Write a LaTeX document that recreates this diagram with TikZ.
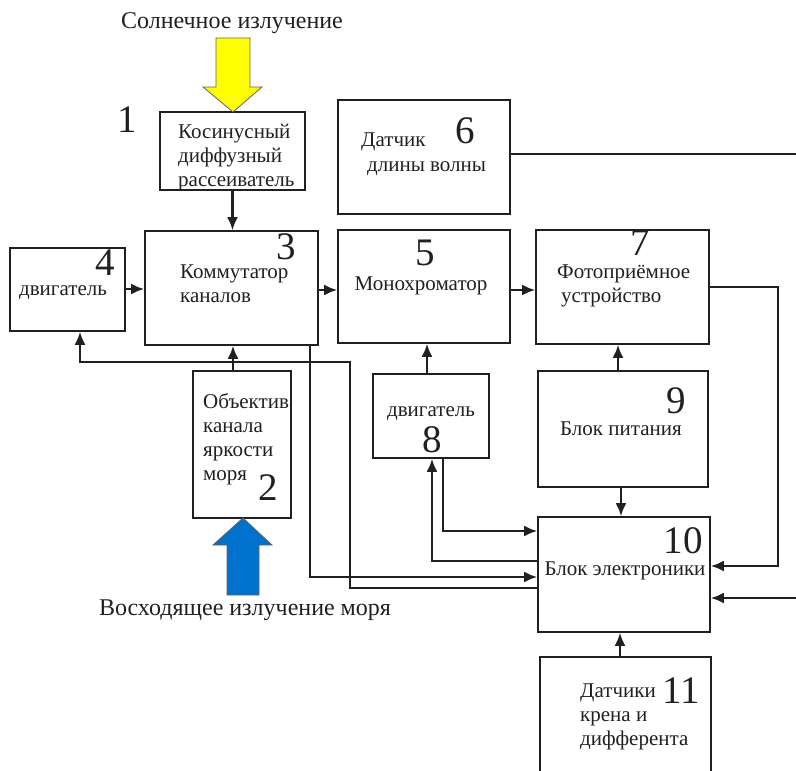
\documentclass[tikz,border=0pt]{standalone}
\usepackage{fontspec}
\setmainfont{Liberation Serif}
\usetikzlibrary{arrows.meta,calc}
\definecolor{sunyellow}{RGB}{255,255,0}
\definecolor{seablue}{RGB}{0,114,206}
\definecolor{ink}{RGB}{35,31,32}
\begin{document}
\begin{tikzpicture}[x=1pt,y=-1pt,
  box/.style={draw=ink,line width=1.8pt,inner sep=0pt},
  wire/.style={draw=ink,line width=2.2pt},
  arr/.style={wire,-{Latex[length=13pt,width=11pt]}},
  txt/.style={font=\fontsize{21}{24}\selectfont,inner sep=0pt,text=ink},
  mtxt/.style={txt,align=left},
  num/.style={font=\fontsize{39}{39}\selectfont,inner sep=0pt,text=ink},
  big/.style={font=\fontsize{24}{26}\selectfont,inner sep=0pt,text=ink}]
\useasboundingbox (0,0) rectangle (796,771);
\clip (0,0) rectangle (796,771);
\fill[white] (0,0) rectangle (796,771);
% boxes
\node[box,minimum width=145pt,minimum height=78pt] (b1) at (232.5,151) {};
\node[box,minimum width=172pt,minimum height=114pt] (b6) at (424,157) {};
\node[box,minimum width=115pt,minimum height=83pt] (b4) at (67.5,289.5) {};
\node[box,minimum width=173pt,minimum height=114pt] (b3) at (231.5,288) {};
\node[box,minimum width=172pt,minimum height=113pt] (b5) at (424,286.5) {};
\node[box,minimum width=173pt,minimum height=114pt] (b7) at (622.5,287) {};
\node[box,minimum width=170pt,minimum height=116pt] (b9) at (623,429) {};
\node[box,minimum width=172pt,minimum height=115pt] (b10) at (624,574.5) {};
\node[box,minimum width=171pt,minimum height=150pt] (b11) at (625.5,732) {};
\node[box,minimum width=116pt,minimum height=84pt] (b8) at (431,416) {};
\node[box,minimum width=98pt,minimum height=147pt] (b2) at (242,444.5) {};
% big arrows
\filldraw[fill=sunyellow,draw=ink!70,line width=0.8pt]
  (216,38) -- (250,38) -- (250,87) -- (262,87) -- (233,112) -- (203,87) -- (216,87) -- cycle;
\filldraw[fill=seablue,draw=ink!70,line width=0.8pt]
  (227,595) -- (259,595) -- (259,545) -- (272,545) -- (243,518) -- (213,545) -- (227,545) -- cycle;
% titles
\node[big,anchor=base] (tsun) at (232,28) {Солнечное излучение};
\node[big,anchor=base] (tsea) at (245,615) {Восходящее излучение моря};
% numbers
\node[num,anchor=base] (n1) at (127,132) {1};
\node[num,anchor=base] (n2) at (268,500) {2};
\node[num,anchor=base] (n3) at (286,259) {3};
\node[num,anchor=base] (n4) at (105,275) {4};
\node[num,anchor=base] (n5) at (425,265) {5};
\node[num,anchor=base] (n6) at (465,143) {6};
\node[num,anchor=base] (n7) at (640,255) {7};
\node[num,anchor=base] (n8) at (432,452) {8};
\node[num,anchor=base] (n9) at (676,413) {9};
\node[num,anchor=base] (n10) at (683,553) {10};
\node[num,anchor=base] (n11) at (681,703) {11};
% texts (multi-line nodes: base = last line's baseline)
\node[mtxt,anchor=base west] (t1) at (178,186) {Косинусный\\диффузный\\рассеиватель};
\node[txt,anchor=base west] (t6a) at (361,146) {Датчик};
\node[txt,anchor=base west] (t6b) at (367,171) {длины волны};
\node[txt,anchor=base] (t4) at (63,295) {двигатель};
\node[mtxt,anchor=base west] (t3) at (180,302) {Коммутатор\\каналов};
\node[txt,anchor=base] (t5) at (421,290) {Монохроматор};
\node[txt,anchor=base west] (t7a) at (557,278) {Фотоприёмное};
\node[txt,anchor=base west] (t7b) at (561,302) {устройство};
\node[txt,anchor=base] (t9) at (621,435) {Блок питания};
\node[txt,anchor=base] (t10) at (625,575) {Блок электроники};
\node[mtxt,anchor=base west] (t11) at (580,745) {Датчики\\крена и\\дифферента};
\node[txt,anchor=base] (t8) at (431,416) {двигатель};
\node[mtxt,anchor=base west] (t2) at (203,480) {Объектив\\канала\\яркости\\моря};
% free ends
\coordinate (r1) at (796,154);
\coordinate (r2) at (796,598);
% connectors
\draw[arr] (b1.south) -- (b1.south |- b3.north);
\draw[arr] (b4.east |- 0,289) -- (b3.west |- 0,289);
\draw[arr] (b3.east |- 0,290) -- (b5.west |- 0,290);
\draw[arr] (b5.east |- 0,290) -- (b7.west |- 0,290);
\draw[arr] (b9.north -| 618,0) -- (b7.south -| 618,0);
\draw[arr] (b9.south -| 621,0) -- (b10.north -| 621,0);
\draw[arr] (b11.north -| 620,0) -- (b10.south -| 620,0);
\draw[arr] (b8.north -| 427,0) -- (b5.south -| 427,0);
\draw[arr] (b2.north -| 233,0) -- (b3.south -| 233,0);
\draw[wire] (b6.east |- r1) -- (r1);
\draw[arr] (b7.east |- 0,287) -- (778,287) -- (778,566) -- (b10.east |- 0,566);
\draw[arr] (r2) -- (b10.east |- r2);
\draw[arr] (b8.south -| 443,0) -- (443,531) -- (b10.west |- 0,531);
\draw[arr] (b10.west |- 0,561) -- (432,561) -- (b8.south -| 432,0);
\draw[arr] (b3.south -| 310,0) -- (310,577) -- (b10.west |- 0,577);
\draw[arr] (b10.west |- 0,588) -- (350,588) -- (350,362) -- (80,362) -- (b4.south -| 80,0);
\end{tikzpicture}
\end{document}
